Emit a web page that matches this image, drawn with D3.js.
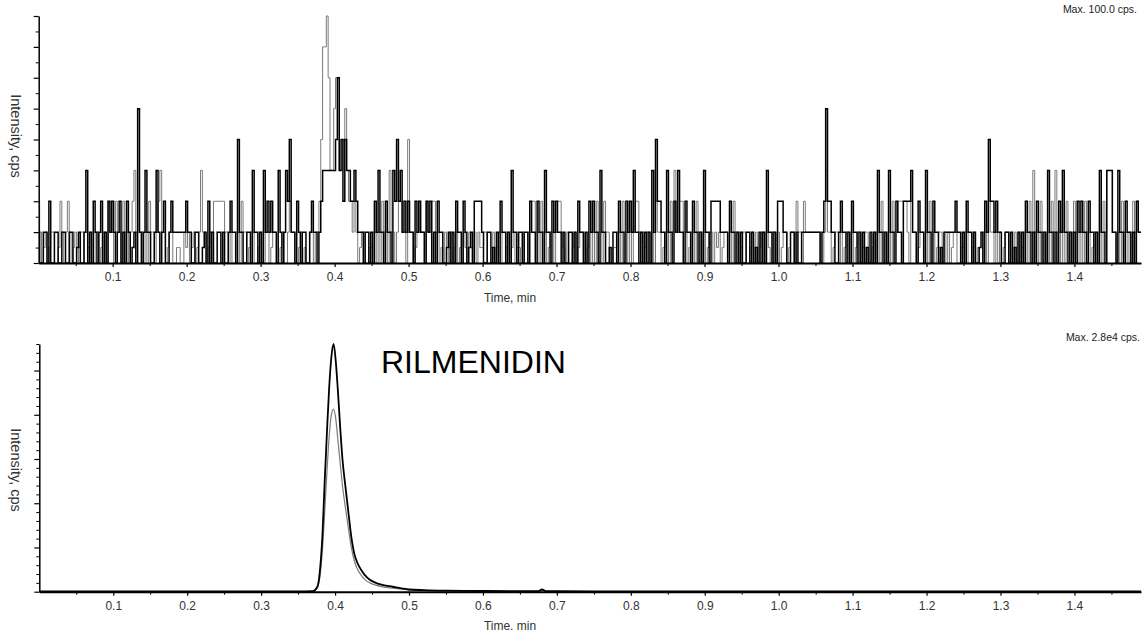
<!DOCTYPE html>
<html>
<head>
<meta charset="utf-8">
<script src="https://cdn.jsdelivr.net/npm/d3@7"></script>
<style>
html,body{margin:0;padding:0;background:#fff;}
svg{display:block;font-family:"Liberation Sans",Arial,sans-serif;}
</style>
</head>
<body>
<svg id="chart" width="1143" height="632"></svg>
<script>
// ---------------- DATA ----------------
// Top panel: noise traces, sampled evenly from 0 to 1.49 min (values in counts; level 8 = 100 cps)
const topBlack = [
 1,0, 0,1, 1,0, 2,0, 0,1, 1,0, 0,1, 1,0, 0,1, 1,0,
 0,0.5, 1,0, 0,1, 3,0, 1,0, 2,1, 0,1, 2,0, 1,0, 2,1,
 2,1, 0,1, 2,0, 1,0, 2,1, 0,0.5, 1,0, 5,1, 0,1, 3,1,
 1,0, 0,1, 3,1, 0,1, 2,0, 0,1, 2,1, 1,1, 1,1, 1,1,
 2,1, 1,0, 0,1, 1,0, 0,0.5, 1,0, 2,0, 1,0, 0,1, 1,0,
 1,0, 0,1, 2,1, 1,0, 4,1, 1,0, 0,1, 1,0, 3,1, 1,0,
 1,0, 3,1, 2,1, 2,1, 1,0, 3,1, 0,1, 3,2, 4,1, 1,0,
 2,1, 0,1, 1,0, 0,1, 2,1, 1,0, 1,2, 3,3, 3,3, 3,3,
 3,4, 6,3, 4,2, 4,3, 3,2, 2,3, 2,1, 1,1, 0,1, 1,0,
 1,0, 2,1, 3,1, 1,0, 2,1, 1,0, 3,2, 4,2, 3,1, 2,1,
 2,1, 1,0, 2,1, 2,1, 1,0, 2,1, 2,0, 1,0, 2,1, 1,0,
 0,0.5, 1,0, 1,0, 2,1, 1,0, 2,1, 0,0.5, 1,0, 2,2, 2,2,
 1,0, 0,1, 1,0, 0.5,0, 1,0, 2,1, 1,0, 1,0, 3,1, 1,0,
 1,1, 0,1, 1,0, 2,1, 1,0, 2,1, 1,0, 3,1, 1,0, 2,1,
 2,1, 1,0, 1,0, 0,1, 1,0, 1,0, 2,1, 1,0, 1,0, 2,1,
 2,1, 1,0, 3,1, 1,0, 0,0.5, 0,1, 1,0, 2,1, 1,0, 2,1,
 2,1, 3,1, 1,0, 1,0, 1,0, 1,0, 3,1, 4,2, 2,1, 1,0,
 3,1, 1,0, 2,1, 3,1, 1,0, 2,1, 1,0, 2,1, 1,0, 1,0,
 3,1, 1,0, 2,2, 2,2, 2,1, 1,1, 1,0, 2,1, 1,0, 1,0,
 1,0, 0,1, 1,0, 1,0, 0.5,0, 1,0, 1,0, 3,1, 1,0, 1,0,
 2,2, 2,1, 1,0, 0,1, 1,0, 1,0, 0,1, 1,1, 1,1, 1,1,
 1,1, 1,0, 1,2, 5,2, 2,1, 1,0, 0,1, 2,1, 1,0, 1,0,
 2,1, 1,0, 1,0, 1,0, 0.5,0, 1,0, 1,0, 3,1, 1,0, 1,0,
 3,1, 1,0, 2,1, 1,0, 2,2, 2,2, 3,1, 1,0, 2,1, 1,0,
 3,1, 1,0, 2,1, 1,0, 0.5,0, 1,1, 1,1, 1,1, 2,1, 1,0,
 1,0, 2,1, 1,0, 1,0, 0,0.5, 1,0, 2,1, 4,2, 2,1, 2,1,
 1,0, 0,1, 1,0, 1,0, 0.5,0, 1,0, 1,0, 2,1, 1,0, 1,0,
 2,1, 1,0, 1,0, 3,1, 1,0, 1,0, 2,1, 3,1, 1,0, 1,0,
 1,0, 2,1, 2,1, 1,0, 2,1, 1,0, 1,0, 3,1, 1,0, 3,3,
 3,1, 1,0, 3,1, 1,0, 2,1, 1,0, 1,0, 2,1, 1
];
const topGrey = [
 2,1, 0,0.5, 1,0, 0.5,1, 1,0, 0,0.5, 2,1, 0,1, 2,1, 0,0.5,
 1,0, 0.5,1, 1,0, 0,0.5, 1,0, 0,1, 1,0, 0.5,1, 1,0, 2,1,
 1,0, 2,1, 1,0, 2,1, 1,0, 1,2, 3,1, 2,1, 1,0, 1,0,
 2,1, 1,0, 1,2, 3,1, 1,0, 0.5,1, 1,0, 0,0.5, 0.5,0, 0,1,
 0.5,1, 0,0.5, 1,0, 0.5,1, 3,1, 1,0, 0.5,1, 1,2, 2,2, 2,2,
 2,1, 1,0, 1,0, 0,1, 1,0, 2,1, 1,0, 0.5,1, 1,0, 0,0.5,
 1,0, 0,1, 1,0, 0.5,1, 1,0, 0,0.5, 1,0, 0,1, 2,1, 1,0,
 0,0.5, 1,0, 0.5,0, 0,1, 1,0, 1,1, 2,4, 7,7, 8,6, 3,3,
 5,6, 4,3, 3,4, 5,3, 2,2, 1,2, 1,0, 0.5,1, 1,0, 0,0.5,
 0.5,1, 1,0, 1,0, 2,1, 1,0, 3,1, 1,0, 1,2, 2,1, 1,0,
 4,1, 1,0, 0.5,1, 2,1, 1,0, 2,1, 1,2, 2,1, 1,0, 0.5,0,
 1,0, 0.5,1, 0,0.5, 1,0, 0.5,0, 1,0.5, 0,1, 0.5,0, 1,0, 1,0.5,
 0.5,1, 1,0, 0,0.5, 1,0, 0.5,1, 1,0, 0,0.5, 1,0, 0.5,1, 0,0.5,
 0.5,0, 1,0, 0,1, 1,2, 2,1, 1,0, 2,1, 1,0, 0.5,1, 1,0,
 1,2, 2,1, 0.5,0, 1,0, 0,0.5, 1,0, 0.5,1, 1,0, 0,0.5, 1,0,
 1,0, 2,1, 1,0, 2,1, 1,0, 0,0.5, 0.5,1, 1,0, 2,1, 1,0,
 1,0, 1,2, 2,1, 1,0, 0.5,1, 1,0, 1,0, 2,1, 1,0, 0.5,1,
 1,0, 2,1, 3,1, 1,2, 2,1, 1,0, 0.5,1, 1,0, 2,1, 1,0,
 1,0, 0.5,1, 1,0, 1,0.5, 1,0, 0.5,1, 1,0, 1,0, 2,1, 1,0,
 0.5,1, 1,0, 0,0.5, 1,0, 1,0, 0.5,1, 1,0, 1,0.5, 0,1, 1,0,
 1,0, 0.5,1, 1,0, 0.5,1, 1,0, 2,1, 1,0, 2,1, 1,1, 1,1,
 1,1, 1,0, 0,1, 3,1, 1,0, 0.5,1, 1,0, 1,0, 0.5,1, 1,0,
 1,0, 0.5,1, 1,0, 0.5,1, 1,0, 0,0.5, 1,0, 1,0, 2,1, 1,0,
 1,0, 2,1, 1,2, 2,2, 2,2, 1,0, 2,1, 1,0, 0.5,1, 1,0,
 1,0, 2,1, 1,0, 0.5,1, 1,0, 1,0, 1,0, 0.5,1, 1,0, 0,0.5,
 0.5,1, 1,0, 0,0.5, 1,0, 0.5,0, 0,1, 1,0, 2,1, 1,0, 1,0,
 1,0, 0.5,1, 1,0, 0,0.5, 1,0, 1,0, 0.5,1, 1,0, 2,1, 3,1,
 1,0, 2,1, 1,0, 1,0, 2,1, 3,1, 1,0, 1,0, 2,1, 1,0,
 2,1, 1,0, 1,0, 2,1, 1,0, 0.5,1, 1,0, 1,0, 2,1, 3,3,
 3,1, 1,0, 1,0, 2,1, 1,0, 1,0, 2,1, 2,1, 1
];
const topMaxLevel = 8;

// Bottom panel: RILMENIDIN peak (cps)
const botTime  = [0.00,0.10,0.20,0.30,0.36,0.370,0.374,0.377,0.380,0.383,0.386,0.389,0.392,0.395,0.398,0.401,0.404,0.407,0.410,0.414,0.418,0.422,0.426,0.430,0.435,0.440,0.447,0.455,0.465,0.478,0.490,0.50,0.52,0.55,0.60,0.65,0.675,0.680,0.685,0.70,0.80,0.90,1.00,1.10,1.20,1.30,1.40,1.49];
const botBlack = [20,20,20,20,30,50,300,800,2800,6500,12500,18000,23000,26500,28000,26000,22500,18500,15000,11900,9000,6200,4300,3300,2500,1900,1350,1000,750,560,380,250,180,120,80,60,70,250,70,50,30,30,30,30,30,30,30,30];
const botGrey  = [15,15,15,15,20,30,200,600,2000,4800,9000,13500,17500,20000,20600,19500,17000,14500,12000,9500,7200,5000,3500,2600,1900,1400,1000,750,550,400,280,200,140,90,60,45,50,150,50,40,20,20,20,20,20,20,20,20];
const botMax = 28000;

// Axis ticks and labels
const xMajorTicks = [0.1,0.2,0.3,0.4,0.5,0.6,0.7,0.8,0.9,1.0,1.1,1.2,1.3,1.4];
const xMinorTicks = [0.05,0.15,0.25,0.35,0.45,0.55,0.65,0.75,0.85,0.95,1.05,1.15,1.25,1.35,1.45];
const topYMajor = [0,1,2,3,4,5,6,7,8];
const topYMinor = [0.5,1.5,2.5,3.5,4.5,5.5,6.5,7.5];
const botYMajor = [0,5000,10000,15000,20000,25000];
const botYMinor = [1000,2000,3000,4000,6000,7000,8000,9000,11000,12000,13000,14000,16000,17000,18000,19000,21000,22000,23000,24000,26000,27000,28000];
const xDomain = [0, 1.49];
const texts = {
  topMax: "Max. 100.0 cps.",
  botMax: "Max. 2.8e4 cps.",
  yTitle: "Intensity, cps",
  xTitleTop: "Time, min",
  xTitleBot: "Time. min",
  compound: "RILMENIDIN"
};

// ---------------- DRAW ----------------
const svg = d3.select("#chart");
const fmt = d3.format(".1f");

function drawXAxis(g, x, yPos) {
  const major = g.append("g").attr("transform", `translate(0,${yPos})`)
    .call(d3.axisBottom(x).tickValues(xMajorTicks).tickFormat(fmt).tickSize(4).tickSizeOuter(0));
  major.select(".domain").attr("stroke", "#000").attr("stroke-width", 2);
  major.selectAll(".tick line").attr("stroke", "#000").attr("stroke-width", 1.2);
  major.selectAll(".tick text").attr("font-size", 12).attr("fill", "#333").attr("dy", "0.95em")
    .attr("font-family", "Liberation Sans, Arial, sans-serif");
  const minor = g.append("g").attr("transform", `translate(0,${yPos})`)
    .call(d3.axisBottom(x).tickValues(xMinorTicks).tickFormat("").tickSize(3).tickSizeOuter(0));
  minor.select(".domain").remove();
  minor.selectAll(".tick line").attr("stroke", "#000");
}

function drawYAxis(g, y, xPos, majors, minors, majLen, minLen) {
  const a = g.append("g").attr("transform", `translate(${xPos},0)`)
    .call(d3.axisLeft(y).tickValues(majors).tickFormat("").tickSize(majLen).tickSizeOuter(0));
  a.select(".domain").attr("stroke", "#000").attr("stroke-width", 1.5);
  a.selectAll(".tick line").attr("stroke", "#000").attr("stroke-width", 1.2);
  const b = g.append("g").attr("transform", `translate(${xPos},0)`)
    .call(d3.axisLeft(y).tickValues(minors).tickFormat("").tickSize(minLen).tickSizeOuter(0));
  b.select(".domain").remove();
  b.selectAll(".tick line").attr("stroke", "#000");
}

// ---- Top panel ----
const xTop = d3.scaleLinear().domain(xDomain).range([38.7, 1141]);
const yTop = d3.scaleLinear().domain([0, topMaxLevel]).range([263, 16]);
const gTop = svg.append("g");

const topLine = (n) => d3.line()
  .x((d, i) => xTop(xDomain[1] * i / (n - 1)))
  .y(d => yTop(d))
  .curve(d3.curveStep);

gTop.append("path").datum(topGrey)
  .attr("d", topLine(topGrey.length)).attr("fill", "none").attr("stroke", "#7a7a7a").attr("stroke-width", 1);
gTop.append("path").datum(topBlack)
  .attr("d", topLine(topBlack.length)).attr("fill", "none").attr("stroke", "#000").attr("stroke-width", 1.5);

drawXAxis(gTop, xTop, 263);
drawYAxis(gTop, yTop, 38.7, topYMajor, topYMinor, 5, 3);

gTop.append("text").attr("x", 1137).attr("y", 13).attr("text-anchor", "end")
  .attr("font-size", 10.5).attr("fill", "#222").text(texts.topMax);
gTop.append("text").attr("transform", "translate(11,136) rotate(90)").attr("text-anchor", "middle")
  .attr("font-size", 14.5).attr("fill", "#333").text(texts.yTitle);
gTop.append("text").attr("x", 510).attr("y", 302).attr("text-anchor", "middle")
  .attr("font-size", 12).attr("fill", "#333").text(texts.xTitleTop);

// ---- Bottom panel ----
const xBot = d3.scaleLinear().domain(xDomain).range([39.3, 1141]);
const yBot = d3.scaleLinear().domain([0, botMax]).range([591.7, 344]);
const gBot = svg.append("g");

const botLine = d3.line()
  .x(d => xBot(d[0]))
  .y(d => yBot(d[1]))
  .curve(d3.curveMonotoneX);

gBot.append("path").datum(botTime.map((t, i) => [t, botGrey[i]]))
  .attr("d", botLine).attr("fill", "none").attr("stroke", "#7a7a7a").attr("stroke-width", 1.2);
gBot.append("path").datum(botTime.map((t, i) => [t, botBlack[i]]))
  .attr("d", botLine).attr("fill", "none").attr("stroke", "#000").attr("stroke-width", 1.8);

drawXAxis(gBot, xBot, 591.7);
drawYAxis(gBot, yBot, 39.3, botYMajor, botYMinor, 5, 3);

gBot.append("text").attr("x", 1140).attr("y", 341).attr("text-anchor", "end")
  .attr("font-size", 10.5).attr("fill", "#222").text(texts.botMax);
gBot.append("text").attr("transform", "translate(11,470) rotate(90)").attr("text-anchor", "middle")
  .attr("font-size", 14.5).attr("fill", "#333").text(texts.yTitle);
gBot.append("text").attr("x", 510).attr("y", 630).attr("text-anchor", "middle")
  .attr("font-size", 12).attr("fill", "#333").text(texts.xTitleBot);
gBot.append("text").attr("x", 381).attr("y", 372.5)
  .attr("font-size", 32).attr("fill", "#000").text(texts.compound);
</script>
</body>
</html>
